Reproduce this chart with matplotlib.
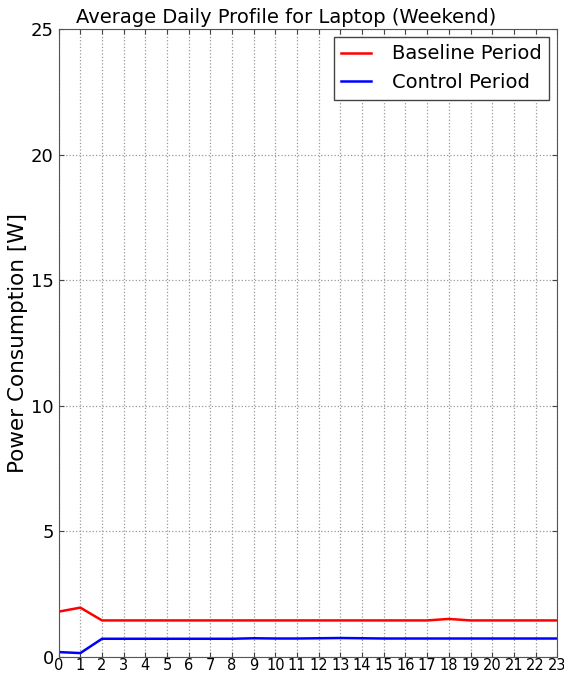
import matplotlib
matplotlib.use('Agg')
import matplotlib.pyplot as plt

hours = list(range(24))
baseline = [1.80, 1.96, 1.45, 1.45, 1.45, 1.45, 1.45, 1.45, 1.45, 1.45, 1.45, 1.45,
            1.45, 1.45, 1.45, 1.45, 1.45, 1.45, 1.51, 1.45, 1.45, 1.45, 1.45, 1.45]
control = [0.19, 0.15, 0.72, 0.72, 0.72, 0.72, 0.72, 0.72, 0.72, 0.74, 0.73, 0.73,
           0.74, 0.75, 0.74, 0.73, 0.73, 0.73, 0.73, 0.73, 0.73, 0.73, 0.73, 0.73]

fig = plt.figure(figsize=(5.64, 6.73), dpi=100)
ax = fig.add_axes([0.104, 0.024, 0.884, 0.933])

ax.plot(hours, baseline, color='red', linewidth=1.8, label='Baseline Period')
ax.plot(hours, control, color='blue', linewidth=1.8, label='Control Period')

ax.set_xlim(0, 23)
ax.set_ylim(0, 25)
ax.set_xticks(hours)
ax.set_yticks([0, 5, 10, 15, 20, 25])
ax.tick_params(axis='x', labelsize=10.5, direction='in', pad=1)
ax.tick_params(axis='y', labelsize=13, direction='in')
ax.tick_params(top=True, right=True, color='#444444')
for s in ax.spines.values():
    s.set_color('#555555')
ax.grid(True, color='#999999', linestyle=':', linewidth=0.9)

ax.set_ylabel('Power Consumption [W]', fontsize=15.5, labelpad=2)
ax.set_title('Average Daily Profile for Laptop (Weekend)', fontsize=14, pad=4, x=0.456)

leg = ax.legend(loc='upper right', fontsize=14, fancybox=False, framealpha=1,
                edgecolor='#444444', handlelength=1.5, handletextpad=1.1,
                borderaxespad=0.4)
leg.get_frame().set_linewidth(1.0)

fig.savefig('out.png', dpi=100)
